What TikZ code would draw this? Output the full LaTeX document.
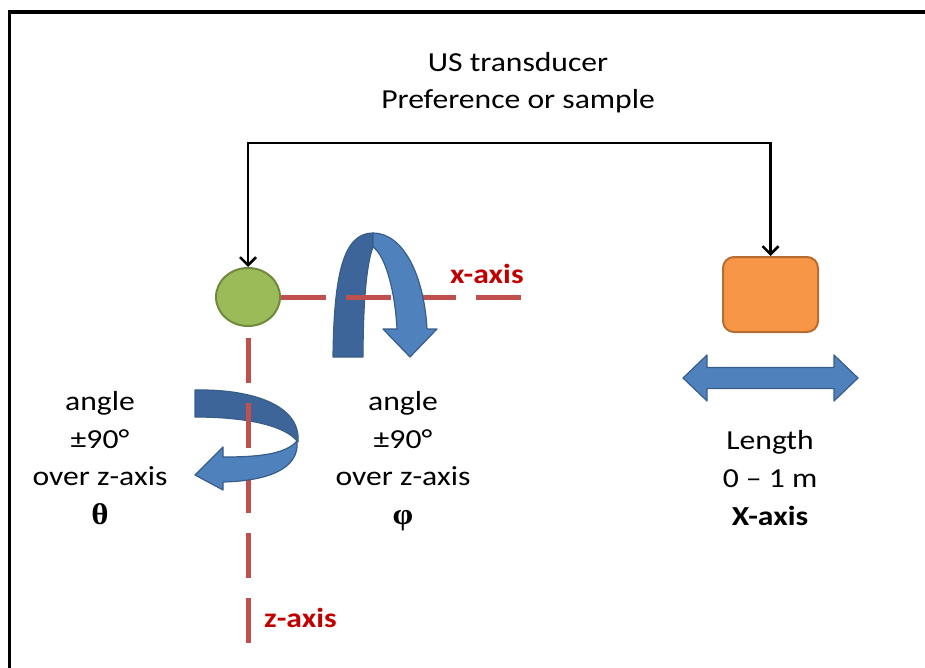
\documentclass[tikz,border=0pt]{standalone}
\usepackage{fontspec}
\setmainfont[FakeStretch=1.15]{Carlito}
\newfontfamily\greekserif[FakeStretch=1.1]{Liberation Serif}
\usetikzlibrary{arrows.meta,shapes.geometric}

\definecolor{ballgreen}{RGB}{155,187,89}
\definecolor{ballgreenline}{RGB}{113,137,63}
\definecolor{boxorange}{RGB}{247,150,70}
\definecolor{boxorangeline}{RGB}{182,109,49}
\definecolor{ribbonlight}{RGB}{79,129,189}
\definecolor{ribbondark}{RGB}{62,101,153}
\definecolor{ribbonline}{RGB}{56,93,138}
\definecolor{axisred}{RGB}{192,80,77}
\definecolor{labelred}{RGB}{192,0,0}

\tikzset{
  ball/.style={ellipse, draw=ballgreenline, fill=ballgreen, line width=2pt,
    minimum width=64pt, minimum height=58pt, inner sep=0pt},
  stage/.style={rectangle, rounded corners=11pt, draw=boxorangeline, fill=boxorange,
    line width=2pt, minimum width=95pt, minimum height=75pt, inner sep=0pt},
  link/.style={line width=2.5pt, black,
    {Straight Barb[length=8pt,width=16pt,line width=2.5pt]}-{Straight Barb[length=8pt,width=16pt,line width=2.5pt]}},
  axisline/.style={axisred, line width=5pt, dash pattern=on 45pt off 20pt},
  axislabel/.style={font=\fontsize{27.5}{32}\selectfont\bfseries, text=labelred,
    inner sep=0pt, anchor=base west},
  txt/.style={font=\fontsize{27.5}{38}\selectfont, inner sep=0pt, anchor=base},
  grk/.style={font=\fontsize{30}{38}\greekserif\bfseries, inner sep=0pt, anchor=base},
  ribbondk/.style={fill=ribbondark, draw=ribbonline, line width=1.2pt, line join=round},
  ribbonlt/.style={fill=ribbonlight, draw=ribbonline, line width=1.2pt, line join=round},
}

\begin{document}
\begin{tikzpicture}[x=1pt,y=-1pt]
\useasboundingbox (0,0) rectangle (925,668);

% outer frame, running off the right and bottom edges
\begin{scope}
  \clip (0,0) rectangle (925,668);
  \draw[line width=3.5pt] (9.5,12) rectangle (960,700);
\end{scope}

% probe (ball) and sample stage
\node[ball] (ball) at (248,297) {};
\node[stage] (stage) at (770.5,294.5) {};

% feed line from the top bar to both parts
\coordinate (bar) at (0,143);
\draw[link] (ball.north) -- (ball.north |- bar) -| (stage.north);

% back faces of the two rotation ribbons
\draw[ribbondk] (333,357) .. controls (334,275) and (343,233) .. (373,233)
  -- (373,247) .. controls (367,262) and (363,300) .. (363,357) -- cycle;
\draw[ribbondk] (195,390) .. controls (252,389) and (301,405) .. (298,442)
  .. controls (285,425) and (245,417) .. (195,417) -- cycle;

% dashed axes
\draw[axisline] (ball.east) -- ++(240,0);
\draw[axisline, dash phase=54pt] (ball.south) -- (248,643);

% front faces with arrow heads
\draw[ribbonlt] (373,233) .. controls (403,233) and (424,275) .. (427,329)
  -- (437,329) -- (410,357) -- (383,329) -- (397,329)
  .. controls (395,290) and (385,255) .. (373,247) -- cycle;
\draw[ribbonlt] (297,441) .. controls (300,470) and (265,481) .. (223,482)
  -- (223,490) -- (195,475) -- (223,447) -- (223,457)
  .. controls (255,457) and (285,455) .. (297,441) -- cycle;

% travel arrow under the stage
\draw[ribbonlt] (683,378) -- (707,355) -- (707,367.5) -- (834,367.5) -- (834,355)
  -- (858,378) -- (834,401) -- (834,388.5) -- (707,388.5) -- (707,401) -- cycle;

% axis labels
\node[axislabel] (xlab) at (450,283) {x-axis};
\node[axislabel] (zlab) at (264,627) {z-axis};

% title
\node[txt] (t1) at (518,72) {US transducer};
\node[txt] (t2) at (518,109) {Preference or sample};

% theta block
\node[txt] (a1) at (100,410) {angle};
\node[txt] (a2) at (100,448) {±90°};
\node[txt] (a3) at (100,485) {over z-axis};
\node[grk] (a4) at (100,524) {θ};

% phi block
\node[txt] (b1) at (403,410) {angle};
\node[txt] (b2) at (403,448) {±90°};
\node[txt] (b3) at (403,485) {over z-axis};
\node[grk] (b4) at (403,524) {φ};

% length block
\node[txt] (c1) at (770,449) {Length};
\node[txt] (c2) at (770,487) {0 – 1 m};
\node[txt, font=\fontsize{27.5}{38}\selectfont\bfseries] (c3) at (770,525) {X-axis};
\end{tikzpicture}
\end{document}
